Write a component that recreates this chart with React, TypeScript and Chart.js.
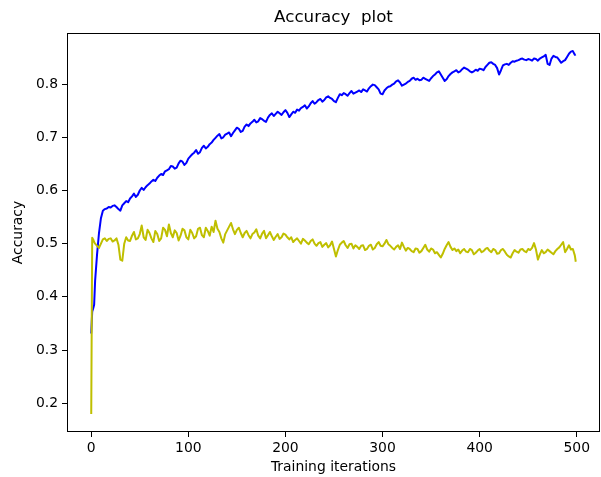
import React, { useEffect, useRef } from "react";
import { Chart, registerables } from "chart.js";

Chart.register(...registerables);

const iterations = [
  0, 1, 2, 3, 4,
  6, 8, 10, 12, 14, 16, 18, 20, 22, 24, 26, 28, 30, 32, 34, 36, 38, 40, 42, 44, 46, 48,
  50, 52, 54, 56, 58, 60, 62, 64, 66, 68, 70, 72, 74, 76, 78, 80, 82, 84, 86, 88, 90, 92, 94, 96, 98,
  100, 102, 104, 106, 108, 110, 112, 114, 116, 118, 120, 122, 124, 126, 128, 130, 132, 134, 136, 138, 140, 142, 144, 146, 148,
  150, 152, 154, 156, 158, 160, 162, 164, 166, 168, 170, 172, 174, 176, 178, 180, 182, 184, 186, 188, 190, 192, 194, 196, 198,
  200, 202, 204, 206, 208, 210, 212, 214, 216, 218, 220, 222, 224, 226, 228, 230, 232, 234, 236, 238, 240, 242, 244, 246, 248,
  250, 252, 254, 256, 258, 260, 262, 264, 266, 268, 270, 272, 274, 276, 278, 280, 282, 284, 286, 288, 290, 292, 294, 296, 298,
  300, 302, 304, 306, 308, 310, 312, 314, 316, 318, 320, 322, 324, 326, 328, 330, 332, 334, 336, 338, 340, 342, 344, 346, 348,
  350, 352, 354, 356, 358, 360, 362, 364, 366, 368, 370, 372, 374, 376, 378, 380, 382, 384, 386, 388, 390, 392, 394, 396, 398,
  400, 402, 404, 406, 408, 410, 412, 414, 416, 418, 420, 422, 424, 426, 428, 430, 432, 434, 436, 438, 440, 442, 444, 446, 448,
  450, 452, 454, 456, 458, 460, 462, 464, 466, 468, 470, 472, 474, 476, 478, 480, 482, 484, 486, 488, 490, 492, 494, 496, 498,
  499,
];

const trainAccuracy = [
  0.331, 0.372, 0.378, 0.385, 0.43,
  0.48, 0.52, 0.548, 0.562, 0.565, 0.566, 0.569, 0.568, 0.571, 0.572, 0.569, 0.565, 0.562, 0.572, 0.576, 0.58, 0.578, 0.585, 0.589, 0.594, 0.588, 0.592,
  0.6, 0.605, 0.601, 0.606, 0.61, 0.613, 0.617, 0.62, 0.618, 0.624, 0.628, 0.631, 0.629, 0.636, 0.638, 0.64, 0.646, 0.645, 0.641, 0.643, 0.651, 0.656, 0.654, 0.648, 0.652,
  0.66, 0.664, 0.668, 0.671, 0.676, 0.669, 0.672, 0.68, 0.684, 0.679, 0.682, 0.687, 0.69, 0.695, 0.699, 0.703, 0.706, 0.698, 0.7, 0.705, 0.707, 0.709, 0.702, 0.708, 0.713,
  0.718, 0.716, 0.71, 0.712, 0.72, 0.724, 0.721, 0.726, 0.729, 0.733, 0.728, 0.73, 0.736, 0.734, 0.731, 0.729, 0.737, 0.742, 0.745, 0.74, 0.744, 0.748, 0.745, 0.742, 0.747,
  0.751, 0.746, 0.738, 0.743, 0.748, 0.746, 0.752, 0.75, 0.755, 0.757, 0.76, 0.754, 0.758, 0.764, 0.768, 0.763, 0.766, 0.77, 0.772, 0.767, 0.77, 0.775, 0.777, 0.774, 0.772,
  0.768, 0.766, 0.774, 0.781, 0.779, 0.783, 0.781, 0.778, 0.783, 0.787, 0.782, 0.784, 0.786, 0.788, 0.785, 0.79, 0.788, 0.786, 0.792, 0.796, 0.799, 0.798, 0.794, 0.79, 0.782,
  0.781, 0.788, 0.792, 0.795, 0.796, 0.799, 0.801, 0.805, 0.807, 0.803, 0.797, 0.799, 0.801, 0.804, 0.806, 0.81, 0.812, 0.808, 0.81, 0.807, 0.808, 0.812, 0.81, 0.808, 0.806,
  0.811, 0.815, 0.818, 0.822, 0.824, 0.818, 0.812, 0.806, 0.809, 0.815, 0.819, 0.822, 0.824, 0.826, 0.822, 0.824, 0.828, 0.831, 0.829, 0.827, 0.824, 0.822, 0.824, 0.827, 0.825,
  0.829, 0.828, 0.826, 0.832, 0.836, 0.84, 0.841, 0.838, 0.836, 0.83, 0.818, 0.826, 0.835, 0.837, 0.838, 0.836, 0.84, 0.843, 0.842, 0.844, 0.845, 0.847, 0.848, 0.846, 0.845,
  0.847, 0.846, 0.844, 0.848, 0.847, 0.844, 0.848, 0.85, 0.852, 0.855, 0.838, 0.836, 0.848, 0.853, 0.851, 0.85, 0.845, 0.84, 0.843, 0.845, 0.851, 0.857, 0.861, 0.862, 0.855,
  0.856,
];

const valAccuracy = [
  0.18, 0.511, 0.508, 0.503, 0.5,
  0.496, 0.492, 0.5, 0.508, 0.51, 0.505, 0.509, 0.51, 0.504, 0.506, 0.51, 0.498, 0.47, 0.468, 0.5, 0.512, 0.506, 0.505, 0.515, 0.522, 0.508, 0.51,
  0.518, 0.534, 0.512, 0.507, 0.526, 0.52, 0.51, 0.503, 0.524, 0.518, 0.505, 0.51, 0.53, 0.526, 0.514, 0.536, 0.52, 0.512, 0.525, 0.52, 0.506, 0.515, 0.528, 0.525, 0.512,
  0.508, 0.526, 0.52, 0.51, 0.514, 0.528, 0.53, 0.516, 0.512, 0.53, 0.524, 0.515, 0.532, 0.522, 0.543, 0.528, 0.522, 0.51, 0.502, 0.518, 0.525, 0.532, 0.539, 0.527, 0.518,
  0.526, 0.53, 0.52, 0.512, 0.52, 0.524, 0.516, 0.51, 0.518, 0.521, 0.527, 0.515, 0.51, 0.519, 0.524, 0.51, 0.516, 0.522, 0.514, 0.507, 0.513, 0.518, 0.509, 0.512, 0.519,
  0.517, 0.512, 0.508, 0.512, 0.503, 0.507, 0.51, 0.505, 0.5, 0.509, 0.506, 0.502, 0.499, 0.505, 0.508, 0.5, 0.496, 0.501, 0.503, 0.494, 0.498, 0.501, 0.493, 0.497, 0.504,
  0.49, 0.476, 0.488, 0.498, 0.502, 0.505, 0.497, 0.492, 0.499, 0.5, 0.491, 0.497, 0.494, 0.49, 0.496, 0.497, 0.488, 0.49, 0.496, 0.498, 0.489, 0.492, 0.499, 0.503, 0.496,
  0.495, 0.5, 0.507, 0.499, 0.496, 0.492, 0.489, 0.494, 0.497, 0.49, 0.502, 0.494, 0.487, 0.492, 0.49, 0.486, 0.484, 0.491, 0.49, 0.483, 0.486, 0.492, 0.498, 0.489, 0.485,
  0.491, 0.489, 0.482, 0.484, 0.479, 0.474, 0.481, 0.49, 0.497, 0.503, 0.494, 0.488, 0.491, 0.486, 0.489, 0.482, 0.487, 0.49, 0.485, 0.484, 0.49, 0.488, 0.48, 0.483, 0.487,
  0.49, 0.484, 0.486, 0.49, 0.492, 0.487, 0.484, 0.49, 0.488, 0.481, 0.482, 0.488, 0.49, 0.485, 0.479, 0.476, 0.474, 0.482, 0.488, 0.485, 0.483, 0.489, 0.49, 0.486, 0.484,
  0.49, 0.488, 0.492, 0.501, 0.489, 0.47, 0.48, 0.488, 0.482, 0.484, 0.489, 0.486, 0.483, 0.48, 0.486, 0.49, 0.493, 0.498, 0.503, 0.484, 0.49, 0.497, 0.489, 0.49, 0.478,
  0.466,
];

const xTicks = [0, 100, 200, 300, 400, 500];
const yTicks = [0.2, 0.3, 0.4, 0.5, 0.6, 0.7, 0.8];

const TITLE = "Accuracy  plot";
const X_LABEL = "Training iterations";
const Y_LABEL = "Accuracy";
const FONT = "'DejaVu Sans', sans-serif";

const framePlugin = {
  id: "frame",
  afterDatasetsDraw(chart: any) {
    const { ctx, chartArea } = chart;
    ctx.save();
    ctx.strokeStyle = "#000";
    ctx.lineWidth = 1;
    ctx.strokeRect(
      Math.round(chartArea.left) + 0.5,
      Math.round(chartArea.top) + 0.5,
      Math.round(chartArea.right - chartArea.left) - 1,
      Math.round(chartArea.bottom - chartArea.top) - 1
    );
    ctx.fillStyle = "#000";
    ctx.font = `16.7px ${FONT}`;
    ctx.textAlign = "center";
    ctx.textBaseline = "middle";
    ctx.fillText(TITLE, (chartArea.left + chartArea.right) / 2, 18);
    ctx.restore();
  },
};

export default function App() {
  const ref = useRef<HTMLCanvasElement | null>(null);

  useEffect(() => {
    if (!ref.current) return;
    const chart = new Chart(ref.current, {
      type: "line",
      data: {
        datasets: [
          {
            label: "train",
            data: iterations.map((x, i) => ({ x, y: trainAccuracy[i] })),
            borderColor: "#0000ff",
            backgroundColor: "#0000ff",
            borderWidth: 2,
            pointRadius: 0,
            tension: 0,
            fill: false,
            borderJoinStyle: "round",
            order: 2,
          },
          {
            label: "val",
            data: iterations.map((x, i) => ({ x, y: valAccuracy[i] })),
            borderColor: "#bfbf00",
            backgroundColor: "#bfbf00",
            borderWidth: 2,
            pointRadius: 0,
            tension: 0,
            fill: false,
            borderJoinStyle: "round",
            order: 1,
          },
        ],
      },
      options: {
        animation: false,
        responsive: false,
        devicePixelRatio: 1,
        layout: { padding: { top: 33, right: 1, bottom: 0, left: 0 } },
        plugins: {
          legend: { display: false },
          tooltip: { enabled: false },
          title: { display: false },
        },
        scales: {
          x: {
            type: "linear",
            min: -24.95,
            max: 523.95,
            afterFit: (s: any) => {
              s.height = 45;
            },
            afterBuildTicks: (s: any) => {
              s.ticks = xTicks.map((v) => ({ value: v }));
            },
            ticks: {
              color: "#000",
              font: { family: FONT, size: 13.9 },
              padding: 3,
              maxRotation: 0,
              autoSkip: false,
              callback: (v: any) => String(v),
            },
            grid: {
              drawOnChartArea: false,
              drawTicks: true,
              tickLength: 5,
              tickColor: "#000",
              tickWidth: 1,
            },
            border: { display: false },
            title: {
              display: true,
              text: X_LABEL,
              color: "#000",
              font: { family: FONT, size: 13.9 },
              padding: { top: 0, bottom: 1 },
            },
          },
          y: {
            type: "linear",
            min: 0.146,
            max: 0.896,
            afterFit: (s: any) => {
              s.width = 67;
            },
            afterBuildTicks: (s: any) => {
              s.ticks = yTicks.map((v) => ({ value: v }));
            },
            ticks: {
              color: "#000",
              font: { family: FONT, size: 13.9 },
              padding: 4,
              autoSkip: false,
              callback: (v: any) => Number(v).toFixed(1),
            },
            grid: {
              drawOnChartArea: false,
              drawTicks: true,
              tickLength: 5,
              tickColor: "#000",
              tickWidth: 1,
            },
            border: { display: false },
            title: {
              display: true,
              text: Y_LABEL,
              color: "#000",
              font: { family: FONT, size: 13.9 },
              padding: { top: 10, bottom: 0 },
            },
          },
        },
      },
      plugins: [framePlugin],
    } as any);
    return () => chart.destroy();
  }, []);

  return (
    <div style={{ position: "fixed", left: 0, top: 0, width: 601, height: 477, background: "#fff" }}>
      <canvas ref={ref} width={601} height={477} style={{ display: "block", width: 601, height: 477 }} />
    </div>
  );
}
